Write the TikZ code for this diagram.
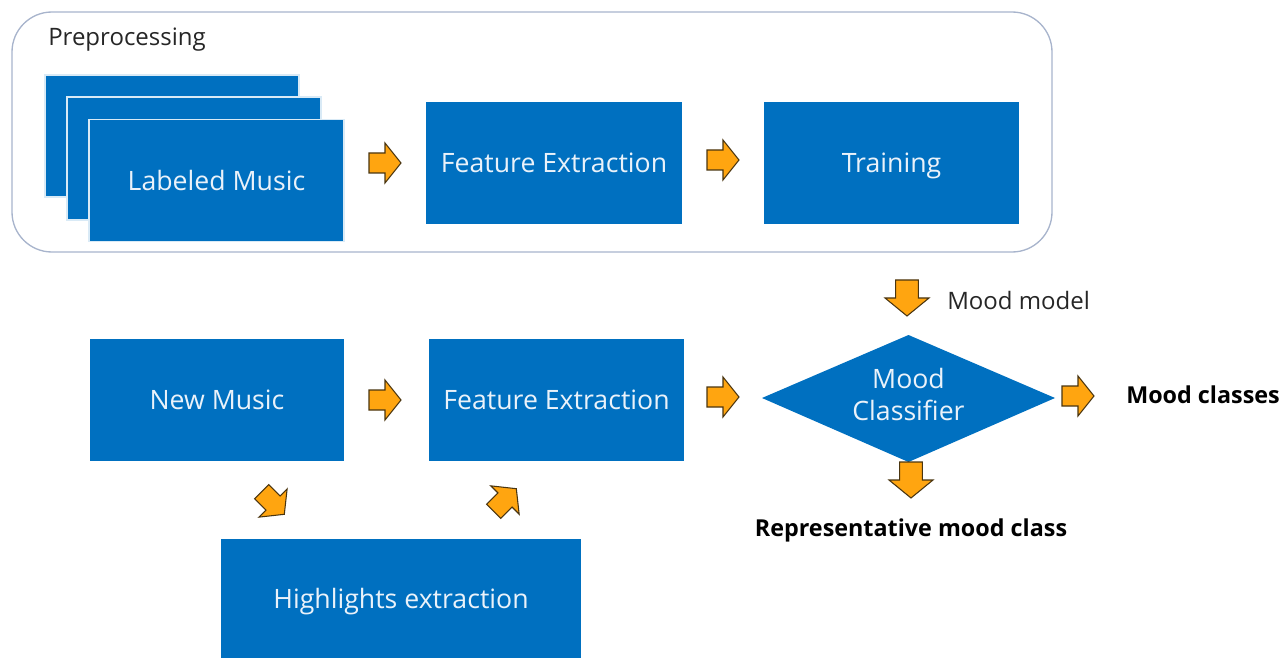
\documentclass[tikz,border=0pt]{standalone}
\usepackage{fontspec}
\setmainfont{Open Sans}
\definecolor{boxblue}{HTML}{0070C0}
\definecolor{arrorange}{HTML}{FFA510}
\definecolor{arrline}{HTML}{4A3510}
\definecolor{frameline}{HTML}{A8B4CC}
\definecolor{boxtext}{HTML}{EAF2FA}
\tikzset{
  box/.style={rectangle, fill=boxblue, text=boxtext, font=\fontsize{20}{24}\selectfont, inner sep=0pt, text height=14.3pt, text depth=0pt},
  stackbox/.style={fill=boxblue, draw=white!85!boxblue, line width=0.8pt},
  barrowshape/.style={fill=arrorange, draw=arrline, line width=0.8pt, line join=miter},
  lbl/.style={font=\fontsize{18}{21}\selectfont, text=black!85, inner sep=0pt},
  blbl/.style={font=\bfseries\fontsize{17.5}{21}\selectfont, text=black, inner sep=0pt},
  pics/barrow/.style={code={
    \draw[barrowshape] (-12pt,-7.5pt) -- (0pt,-7.5pt) -- (0pt,-15pt) -- (12pt,0pt) -- (0pt,15pt) -- (0pt,7.5pt) -- (-12pt,7.5pt) -- cycle;
  }},
  pics/bigarrow/.style={code={
    \draw[barrowshape] (-13.5pt,-8.5pt) -- (0pt,-8.5pt) -- (0pt,-16.5pt) -- (13.5pt,0pt) -- (0pt,16.5pt) -- (0pt,8.5pt) -- (-13.5pt,8.5pt) -- cycle;
  }}
}
\begin{document}
\begin{tikzpicture}[x=0.75pt,y=0.75pt]
\useasboundingbox (0,0) rectangle (1282,658);
% preprocessing frame
\draw[frameline, line width=1pt, rounded corners=30pt] (12,406) rectangle (1052,646);
\node[lbl, anchor=west] (pre) at (48,618) {Preprocessing};
% stacked labeled music
\draw[stackbox] (45,461) rectangle (299,583);
\draw[stackbox] (67,438) rectangle (321,561);
\node[box, draw=white!85!boxblue, line width=0.8pt, minimum width=191.25pt, minimum height=91.5pt] (lm) at (216.5,477.5) {Labeled Music};
\node[box, minimum width=192pt, minimum height=91.5pt] (fe1) at (554,495) {Feature Extraction};
\node[box, minimum width=191.25pt, minimum height=91.5pt] (tr) at (891.5,495) {Training};
\pic at (385,495) {barrow};
\pic at (723,498) {barrow};
% mood model
\pic[rotate=-90] at (907,360) {bigarrow};
\node[lbl, anchor=west] (mm) at (947,358) {Mood model};
% second row
\node[box, minimum width=190.5pt, minimum height=91.5pt] (nm) at (217,258) {New Music};
\node[box, minimum width=191.25pt, minimum height=91.5pt] (fe2) at (556.5,258) {Feature Extraction};
\coordinate (mcc) at (908.5,260);
\fill[boxblue] (762,260) -- (908.5,323) -- (1055,260) -- (908.5,196) -- cycle;
\node[text=boxtext, font=\fontsize{20}{24}\selectfont, align=center, inner sep=0pt] (mc) at (908.5,264) {Mood\\Classifier};
\pic at (385,258) {barrow};
\pic at (723,261) {barrow};
\pic at (1078,262) {barrow};
\node[blbl, anchor=west] (cls) at (1126,263) {Mood classes};
\pic[rotate=-90] at (911,178) {bigarrow};
\node[blbl] (rep) at (911,128) {Representative mood class};
% highlights
\pic[rotate=-45] at (273,155) {barrow};
\pic[rotate=45] at (505,158) {barrow};
\node[box, minimum width=270pt, minimum height=89.25pt] (hl) at (401,59.5) {Highlights extraction};
\end{tikzpicture}
\end{document}
